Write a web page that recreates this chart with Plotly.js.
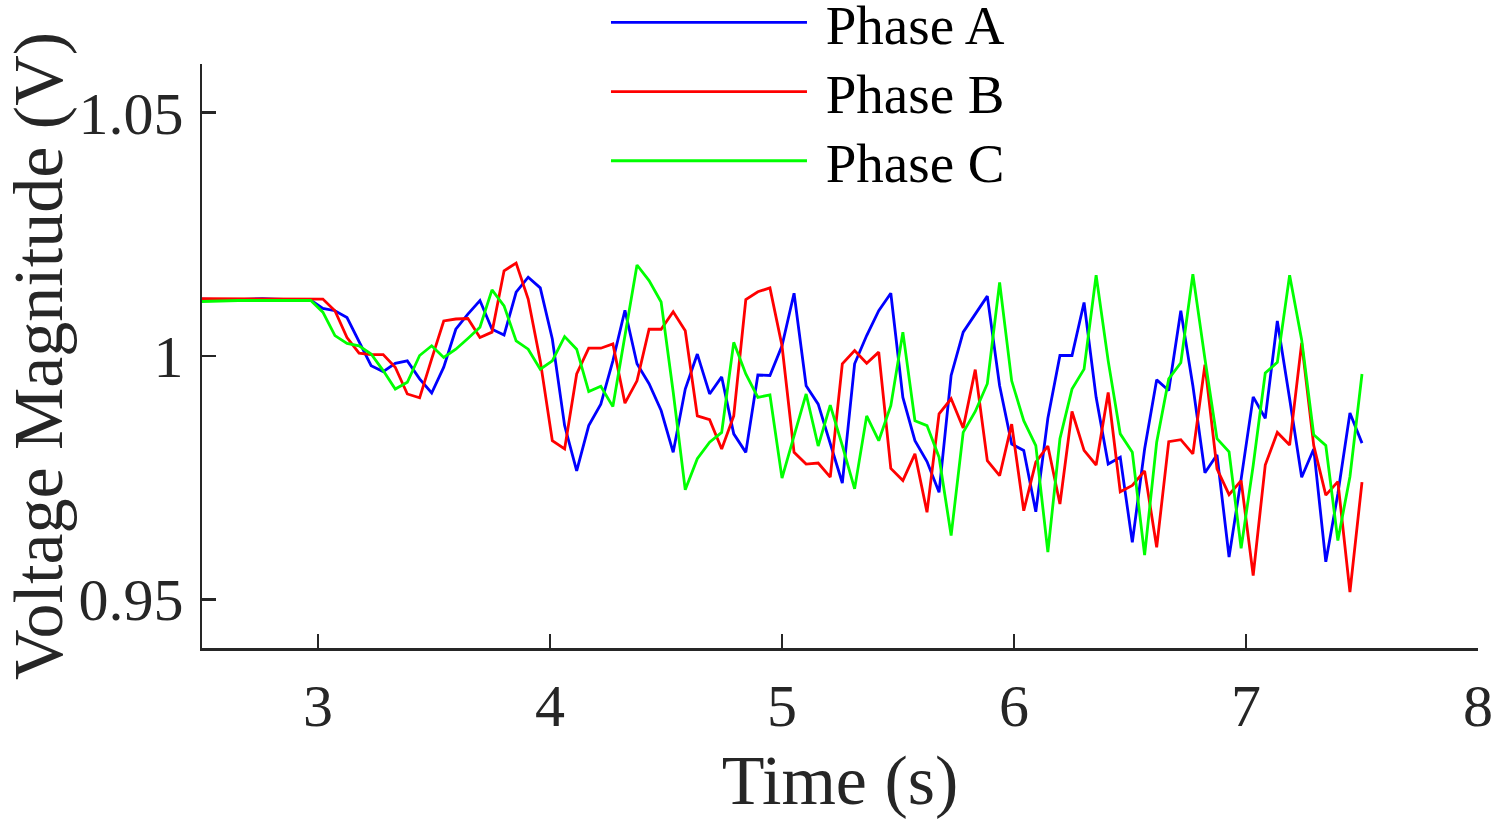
<!DOCTYPE html>
<html>
<head>
<meta charset="utf-8">
<script src="https://cdn.plot.ly/plotly-3.0.1.min.js"></script>
<style>
  html, body { margin: 0; padding: 0; background: #fff; }
  #chart { width: 1504px; height: 823px; }
</style>
</head>
<body>
<div id="chart"></div>
<script>
// Sample times (s)
const time = [
  2.500, 2.552, 2.604, 2.656, 2.708, 2.760, 2.813, 2.865, 2.917, 2.969,
  3.021, 3.073, 3.125, 3.177, 3.229, 3.281, 3.333, 3.385, 3.438, 3.490,
  3.542, 3.594, 3.646, 3.698, 3.750, 3.802, 3.854, 3.906, 3.958, 4.010,
  4.063, 4.115, 4.167, 4.219, 4.271, 4.323, 4.375, 4.427, 4.479, 4.531,
  4.583, 4.635, 4.688, 4.740, 4.792, 4.844, 4.896, 4.948, 5.000, 5.052,
  5.104, 5.156, 5.208, 5.260, 5.313, 5.365, 5.417, 5.469, 5.521, 5.573,
  5.625, 5.677, 5.729, 5.781, 5.833, 5.885, 5.938, 5.990, 6.042, 6.094,
  6.146, 6.198, 6.250, 6.302, 6.354, 6.406, 6.458, 6.510, 6.563, 6.615,
  6.667, 6.719, 6.771, 6.823, 6.875, 6.927, 6.979, 7.031, 7.083, 7.135,
  7.188, 7.240, 7.292, 7.344, 7.396, 7.448, 7.500
];

// Voltage magnitude per phase
const phaseA = [
  1.0117, 1.0116, 1.0116, 1.0116, 1.0117, 1.0118, 1.0117, 1.0116, 1.0116, 1.0115,
  1.0098, 1.0093, 1.0079, 1.0029, 0.9980, 0.9968, 0.9985, 0.9990, 0.9953, 0.9924,
  0.9977, 1.0055, 1.0086, 1.0114, 1.0055, 1.0043, 1.0131, 1.0162, 1.0140, 1.0035,
  0.9857, 0.9764, 0.9857, 0.9901, 0.9990, 1.0094, 0.9984, 0.9943, 0.9888, 0.9802,
  0.9932, 1.0004, 0.9922, 0.9957, 0.9840, 0.9802, 0.9961, 0.9960, 1.0021, 1.0129,
  0.9939, 0.9901, 0.9819, 0.9739, 0.9984, 1.0042, 1.0093, 1.0129, 0.9915, 0.9826,
  0.9783, 0.9720, 0.9960, 1.0049, 1.0086, 1.0123, 0.9939, 0.9819, 0.9806, 0.9680,
  0.9872, 1.0001, 1.0001, 1.0110, 0.9915, 0.9778, 0.9792, 0.9617, 0.9809, 0.9951,
  0.9929, 1.0093, 0.9939, 0.9760, 0.9797, 0.9587, 0.9747, 0.9916, 0.9872, 1.0072,
  0.9912, 0.9751, 0.9809, 0.9577, 0.9717, 0.9883, 0.9821
];
const phaseB = [
  1.0118, 1.0118, 1.0117, 1.0117, 1.0117, 1.0117, 1.0117, 1.0117, 1.0117, 1.0117,
  1.0117, 1.0093, 1.0038, 1.0006, 1.0003, 1.0003, 0.9977, 0.9922, 0.9914, 0.9994,
  1.0072, 1.0076, 1.0077, 1.0038, 1.0049, 1.0175, 1.0191, 1.0117, 0.9990, 0.9826,
  0.9809, 0.9963, 1.0016, 1.0016, 1.0025, 0.9903, 0.9949, 1.0055, 1.0055, 1.0091,
  1.0052, 0.9877, 0.9869, 0.9809, 0.9877, 1.0116, 1.0132, 1.0140, 1.0021, 0.9802,
  0.9778, 0.9780, 0.9751, 0.9984, 1.0011, 0.9985, 1.0008, 0.9769, 0.9744, 0.9799,
  0.9679, 0.9881, 0.9912, 0.9852, 0.9972, 0.9785, 0.9754, 0.9860, 0.9682, 0.9782,
  0.9815, 0.9696, 0.9886, 0.9806, 0.9776, 0.9925, 0.9721, 0.9734, 0.9764, 0.9607,
  0.9824, 0.9828, 0.9799, 0.9982, 0.9768, 0.9715, 0.9744, 0.9549, 0.9776, 0.9843,
  0.9817, 1.0027, 0.9816, 0.9714, 0.9742, 0.9515, 0.9741
];
const phaseC = [
  1.0112, 1.0113, 1.0114, 1.0114, 1.0114, 1.0114, 1.0114, 1.0114, 1.0114, 1.0114,
  1.0090, 1.0042, 1.0026, 1.0021, 1.0004, 0.9970, 0.9932, 0.9946, 1.0001, 1.0021,
  0.9997, 1.0014, 1.0036, 1.0059, 1.0136, 1.0103, 1.0031, 1.0014, 0.9973, 0.9990,
  1.0040, 1.0014, 0.9927, 0.9938, 0.9896, 1.0042, 1.0187, 1.0155, 1.0111, 0.9926,
  0.9725, 0.9789, 0.9823, 0.9843, 1.0028, 0.9963, 0.9915, 0.9920, 0.9749, 0.9836,
  0.9922, 0.9815, 0.9899, 0.9816, 0.9727, 0.9877, 0.9826, 0.9898, 1.0049, 0.9867,
  0.9857, 0.9792, 0.9631, 0.9843, 0.9886, 0.9943, 1.0151, 0.9949, 0.9867, 0.9816,
  0.9597, 0.9830, 0.9932, 0.9973, 1.0166, 0.9990, 0.9840, 0.9802, 0.9591, 0.9823,
  0.9953, 0.9986, 1.0168, 0.9994, 0.9830, 0.9803, 0.9605, 0.9775, 0.9965, 0.9987,
  1.0166, 1.0033, 0.9838, 0.9816, 0.9621, 0.9752, 0.9963
];

const seriesNames = ['Phase A', 'Phase B', 'Phase C'];
const seriesColors = ['#0000FF', '#FF0000', '#00FF00'];

const xTicks = [3, 4, 5, 6, 7, 8];
const yTicks = [0.95, 1, 1.05];
const yTickLabels = ['0.95', '1', '1.05'];

const FONT = 'Liberation Serif, Times New Roman, serif';
const AXIS_COLOR = '#262626';

// one legend per trace so each row sits at the reference spacing
const legendIds = ['legend', 'legend2', 'legend3'];
const legendRows = [1.0707, 0.9521, 0.8339];

function makeTrace(y, i) {
    return {
        x: time,
        y: y,
        // leading no-break space widens the gap between legend line and text
        name: '\u00a0' + seriesNames[i],
        legend: legendIds[i],
        type: 'scatter',
        mode: 'lines',
        line: { color: seriesColors[i], width: 2.8 }
    };
}

function makeLegend(row) {
    return {
        x: 0.3166,
        xanchor: 'left',
        y: row,
        yanchor: 'middle',
        bgcolor: 'rgba(0,0,0,0)',
        borderwidth: 0,
        itemwidth: 196,
        font: { family: FONT, size: 55, color: '#000000' }
    };
}

const data = [phaseA, phaseB, phaseC].map(makeTrace);

const axisBase = {
    showline: true,
    linecolor: AXIS_COLOR,
    linewidth: 2.5,
    ticks: 'inside',
    ticklen: 14,
    tickwidth: 2.5,
    tickcolor: AXIS_COLOR,
    showgrid: false,
    zeroline: false,
    mirror: false,
    tickfont: { family: FONT, size: 60, color: AXIS_COLOR }
};

const layout = {
    width: 1504,
    height: 823,
    margin: { l: 202, r: 26, t: 64, b: 175, pad: 0, autoexpand: false },
    paper_bgcolor: '#ffffff',
    plot_bgcolor: '#ffffff',
    showlegend: true,
    xaxis: Object.assign({}, axisBase, {
        range: [2.5, 8],
        tickvals: xTicks,
        ticklabelstandoff: 3,
        title: { text: 'Time (s)', font: { family: FONT, size: 70, color: AXIS_COLOR }, standoff: 18 }
    }),
    yaxis: Object.assign({}, axisBase, {
        range: [0.94, 1.06],
        tickvals: yTicks,
        ticktext: yTickLabels,
        ticklabelstandoff: 4,
        automargin: true,
        title: { text: 'Voltage Magnitude (V)', font: { family: FONT, size: 70, color: AXIS_COLOR }, standoff: 24 }
    })
};
legendIds.forEach(function (id, i) { layout[id] = makeLegend(legendRows[i]); });

Plotly.newPlot('chart', data, layout, { staticPlot: true, displayModeBar: false });
</script>
</body>
</html>
